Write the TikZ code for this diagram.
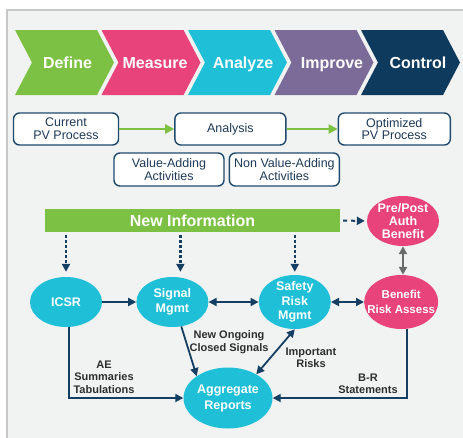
\documentclass[tikz,border=0pt]{standalone}
\usepackage{fontspec}
\setmainfont{Liberation Sans}
\usetikzlibrary{positioning, shapes.geometric, arrows.meta}

\definecolor{dmgreen}{HTML}{7CC143}
\definecolor{dmpink}{HTML}{E8437A}
\definecolor{dmcyan}{HTML}{1FBFD8}
\definecolor{dmpurple}{HTML}{7B6B98}
\definecolor{dmnavy}{HTML}{0E3A5E}
\definecolor{linknavy}{HTML}{143F63}
\definecolor{boxnavy}{HTML}{1F4A6E}
\definecolor{boxtext}{HTML}{1E3A58}
\definecolor{panelgray}{HTML}{F1F2F2}
\definecolor{labelgray}{HTML}{2E2E2E}

\tikzset{
  phase/.style={text=white, text height=11.5pt, text depth=3.5pt, font=\fontsize{16}{18}\selectfont\bfseries},
  pvbox/.style={draw=boxnavy, line width=1.4pt, rounded corners=6pt, fill=white,
    text=boxtext, align=center, minimum height=32pt, inner sep=1pt,
    font=\fontsize{12.5}{12.7}\selectfont},
  bubble/.style={ellipse, minimum width=72pt, minimum height=50pt, inner sep=0pt, fill=dmcyan},
  bubbletext/.style={text=white, align=center, font=\fontsize{12.5}{14.5}\selectfont\bfseries},
  flowlabel/.style={text=labelgray, align=center, font=\fontsize{11}{12.5}\selectfont\bfseries},
  greenflow/.style={draw=dmgreen, line width=2.5pt, -{Triangle[length=9pt,width=9pt]}},
  link/.style={draw=linknavy, line width=1.8pt, -{Triangle[length=8pt,width=8pt]}},
  twoway/.style={link, {Triangle[length=8pt,width=8pt]}-{Triangle[length=8pt,width=8pt]}},
  feed/.style={link, line width=2.5pt, dash pattern=on 2.5pt off 2.5pt},
}

\begin{document}
\begin{tikzpicture}[x=1pt, y=-1pt]
\useasboundingbox (0,0) rectangle (463,437);
\filldraw[fill=panelgray, draw=black!22, line width=1.5pt] (7,10) rectangle (480,450);

% DMAIC band
\fill[dmgreen]  (15,30) -- (97,30) -- (114,62.5) -- (97,95) -- (15,95) -- (32,62.5) -- cycle;
\fill[dmpink]   (101.5,30) -- (183.5,30) -- (200.5,62.5) -- (183.5,95) -- (101.5,95) -- (118.5,62.5) -- cycle;
\fill[dmcyan]   (188,30) -- (270,30) -- (287,62.5) -- (270,95) -- (188,95) -- (205,62.5) -- cycle;
\fill[dmpurple] (274.5,30) -- (356.5,30) -- (373.5,62.5) -- (356.5,95) -- (274.5,95) -- (291.5,62.5) -- cycle;
\fill[dmnavy]   (361,30) -- (443,30) -- (460,62.5) -- (443,95) -- (361,95) -- (378,62.5) -- cycle;

\node[phase] (define)  at (67.5,64) {Define};
\node[phase] (measure) at (155,64) {Measure};
\node[phase] (analyze) at (243,64) {Analyze};
\node[phase] (improve) at (332,64) {Improve};
\node[phase] (control) at (418,64) {Control};

% process row
\node[pvbox, minimum width=105pt] (current) at (66,129) {Current\\PV Process};
\node[pvbox, minimum width=111pt] (analysis) [right=55pt of current] {Analysis};
\node[pvbox, minimum width=112pt] (optimized) [right=51pt of analysis] {Optimized\\PV Process};
\node[pvbox, minimum width=110pt, minimum height=33pt] (valueadd) at (169,169.5) {Value-Adding\\Activities};
\node[pvbox, minimum width=110pt, minimum height=33pt] (nonvalue) [right=4pt of valueadd] {Non Value-Adding\\Activities};

\draw[greenflow] (current) -- (analysis);
\draw[greenflow] (analysis) -- (optimized);

% PV cycle
\node[fill=dmgreen, text=white, font=\fontsize{16}{18}\selectfont\bfseries,
  minimum width=295pt, minimum height=23pt, inner sep=0pt] (newinfo) at (192.5,220.5) {New Information};
\node[bubble, fill=dmpink, label={[bubbletext, font=\fontsize{12.5}{12.7}\selectfont\bfseries]center:Pre/Post\\Auth\\Benefit}] (prepost) at (403,221) {};

\node[bubble, label={[bubbletext]center:ICSR}] (icsr) at (66,302) {};
\node[bubble, label={[bubbletext]center:Signal\\Mgmt}] (signal) [right=34pt of icsr] {};
\node[bubble, minimum height=54pt, label={[bubbletext]center:Safety\\Risk\\Mgmt}] (safety) [right=50pt of signal] {};
\node[bubble, fill=dmpink, minimum width=74pt, minimum height=54pt,
  label={[bubbletext, font=\fontsize{11.5}{15}\selectfont\bfseries]center:Benefit\\Risk Assess}] (benefit) [right=33pt of safety] {};
\node[bubble, minimum width=89pt, minimum height=61pt, label={[bubbletext, font=\fontsize{12.5}{16}\selectfont\bfseries]center:Aggregate\\Reports}] (aggregate) at (228,398) {};

\coordinate (sigdrop) at ([xshift=8pt]signal.north);
\draw[feed, shorten <=3pt, shorten >=5pt] (newinfo.south -| icsr.north) -- (icsr.north);
\draw[feed, shorten <=3pt, shorten >=5pt] (newinfo.south -| sigdrop) -- (sigdrop);
\draw[feed, shorten <=3pt, shorten >=3pt] (newinfo.south -| safety.north) -- (safety.north);
\draw[link, line width=2pt, dash pattern=on 4pt off 4pt, shorten <=3pt, shorten >=2pt] (newinfo.east) -- (prepost.west);

\draw[link] (icsr) -- (signal);
\draw[twoway] (signal) -- (safety);
\draw[twoway] (safety) -- (benefit);
\draw[twoway, draw=black!58, line width=2.2pt] (prepost.south) -- (prepost.south |- benefit.north);

\draw[link] ([xshift=3pt]icsr.south) |- (aggregate.west);
\draw[link] ([xshift=6pt]benefit.south) |- (aggregate.east);
\draw[link] (signal.-70) -- (aggregate.145);
\draw[twoway] (safety.south) -- (aggregate.40);

\node[flowlabel] (aelabel) at (104,377) {AE\\Summaries\\Tabulations};
\node[flowlabel] (signallabel) at (229,342) {New Ongoing\\Closed Signals};
\node[flowlabel] (risklabel) at (311,358) {Important\\Risks};
\node[flowlabel] (brlabel) at (368,384) {B-R\\Statements};
\end{tikzpicture}
\end{document}
